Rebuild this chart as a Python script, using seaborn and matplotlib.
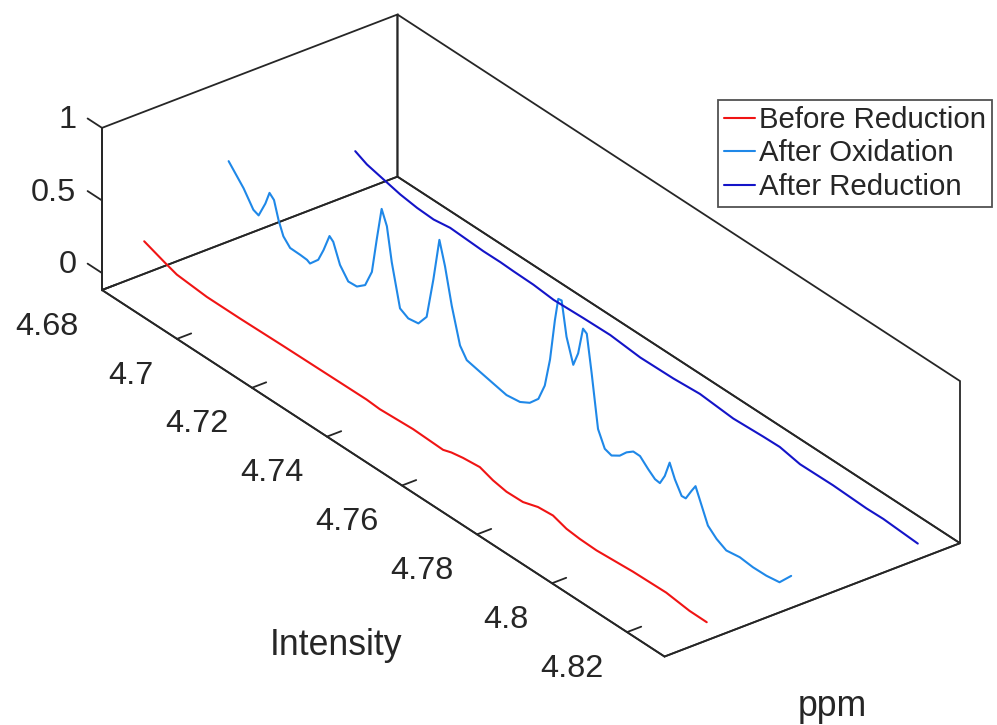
import numpy as np
import matplotlib
matplotlib.use("Agg")
import matplotlib.pyplot as plt
import seaborn as sns
from mpl_toolkits.mplot3d import proj3d

# ---------------- data ----------------
series_names = ["Before Reduction", "After Oxidation", "After Reduction"]
series_pos = [0.5, 1.5, 3.0]          # depth position of each trace

ppm_before = [4.6800, 4.6856, 4.6887, 4.6967, 4.7055, 4.7171, 4.7304, 4.7393,
              4.7428, 4.7517, 4.7597, 4.7619, 4.7650, 4.7695, 4.7730, 4.7766,
              4.7810, 4.7850, 4.7890, 4.7926, 4.7961, 4.8006, 4.8103, 4.8192,
              4.8254, 4.8300]
int_before = [0.107, 0.052, 0.024, 0.005, 0.005, 0.010, 0.013, 0.015,
              0.008, 0.020, 0.012, 0.031, 0.046, 0.058, 0.026, 0.008,
              0.011, 0.044, 0.053, 0.022, 0.012, 0.008, 0.025, 0.030,
              0.009, 0.008]

ppm_oxid = [4.6800, 4.6840, 4.6866, 4.6880, 4.6898, 4.6909, 4.6921, 4.6933,
            4.6946, 4.6964, 4.6991, 4.7009, 4.7017, 4.7039, 4.7053, 4.7069,
            4.7079, 4.7097, 4.7119, 4.7142, 4.7164, 4.7182, 4.7195, 4.7208,
            4.7222, 4.7235, 4.7257, 4.7279, 4.7306, 4.7328, 4.7346, 4.7362,
            4.7377, 4.7395, 4.7417, 4.7435, 4.7470, 4.7506, 4.7541, 4.7577,
            4.7603, 4.7626, 4.7643, 4.7657, 4.7670, 4.7679, 4.7688, 4.7701,
            4.7719, 4.7732, 4.7745, 4.7755, 4.7768, 4.7781, 4.7785, 4.7803,
            4.7821, 4.7843, 4.7861, 4.7879, 4.7897, 4.7919, 4.7937, 4.7950,
            4.7963, 4.7976, 4.7990, 4.8008, 4.8019, 4.8034, 4.8045, 4.8056,
            4.8078, 4.8101, 4.8127, 4.8163, 4.8198, 4.8234, 4.8269, 4.8300]
int_oxid = [0.436, 0.316, 0.212, 0.197, 0.309, 0.401, 0.372, 0.255,
            0.164, 0.114, 0.112, 0.108, 0.096, 0.159, 0.249, 0.373,
            0.350, 0.221, 0.144, 0.148, 0.195, 0.316, 0.563, 0.794,
            0.698, 0.472, 0.191, 0.159, 0.170, 0.252, 0.541, 0.840,
            0.683, 0.441, 0.205, 0.134, 0.113, 0.092, 0.072, 0.085,
            0.123, 0.189, 0.309, 0.512, 0.805, 0.967, 0.971, 0.743,
            0.580, 0.681, 0.873, 0.855, 0.605, 0.332, 0.249, 0.143,
            0.127, 0.163, 0.216, 0.252, 0.251, 0.197, 0.159, 0.154,
            0.225, 0.339, 0.247, 0.163, 0.165, 0.241, 0.293, 0.221,
            0.077, 0.024, -0.012, 0.002, -0.008, -0.006, 0.008, 0.104]

ppm_after = [4.6800, 4.6831, 4.6876, 4.6920, 4.6965, 4.7009, 4.7053, 4.7098,
             4.7142, 4.7187, 4.7222, 4.7275, 4.7329, 4.7408, 4.7480, 4.7560,
             4.7648, 4.7719, 4.7808, 4.7888, 4.7932, 4.7986, 4.8074, 4.8163,
             4.8208, 4.8300]
int_after = [0.170, 0.131, 0.102, 0.074, 0.057, 0.051, 0.068, 0.062,
             0.056, 0.057, 0.053, 0.050, 0.036, 0.044, 0.048, 0.028,
             0.032, 0.045, 0.025, 0.035, 0.038, 0.010, 0.013, 0.004,
             0.007, -0.008]

ppm_ticks = [4.68, 4.70, 4.72, 4.74, 4.76, 4.78, 4.80, 4.82]
ppm_tick_labels = ["4.68", "4.7", "4.72", "4.74", "4.76", "4.78", "4.8", "4.82"]
int_ticks = [0, 0.5, 1]
int_tick_labels = ["0", "0.5", "1"]

# ---------------- style ----------------
sns.set_theme(style="white")
plt.rcParams["font.family"] = ["Liberation Sans", "DejaVu Sans"]
colors = sns.color_palette(["#f01414", "#1f88e8", "#1414c8"])
ink = "#262626"

W, H = 997, 725
fig = plt.figure(figsize=(W / 100, H / 100), dpi=100)
ax = fig.add_axes([0, 0, 1, 1], projection="3d")
ax.set_proj_type("ortho")
ax.view_init(elev=30, azim=-37.5)
ax.set_box_aspect((923, 372, 187))

traces = [(ppm_before, int_before), (ppm_oxid, int_oxid), (ppm_after, int_after)]
for (xs, zs), pos, name, col in zip(traces, series_pos, series_names, colors):
    ax.plot(xs, np.full(len(xs), pos), zs, color=col, lw=1.5, label=name)

ax.set_xlim(4.68, 4.83)
ax.set_ylim(0, 3.5)
ax.set_zlim(-0.117, 1)

ax.set_xticks(ppm_ticks)
ax.set_xticklabels(ppm_tick_labels)
ax.set_yticks([])
ax.set_zticks(int_ticks)
ax.set_zticklabels(int_tick_labels)
ax.grid(False)

for axis in (ax.xaxis, ax.yaxis, ax.zaxis):
    axis.pane.set_fill(False)
    axis.pane.set_closed(True)
    axis.pane.set_edgecolor(ink)
    axis.pane.set_alpha(1.0)
    axis.pane.set_linewidth(1.3)
    axis.line.set_color(ink)
    axis.line.set_linewidth(1.3)
    axis._axinfo["tick"]["inward_factor"] = 0.0
    axis._axinfo["tick"]["linewidth"] = {True: 1.3, False: 1.0}
    axis._axinfo["tick"]["color"] = ink

# intensity ticks on the front-left vertical edge, pointing along -ppm
ax.zaxis.set_ticks_position("lower")
ax.zaxis._get_tickdir = lambda position: 0

ax.xaxis._axinfo["tick"]["outward_factor"] = 0.6
ax.zaxis._axinfo["tick"]["outward_factor"] = 0.32
ax.xaxis.set_tick_params(labelsize=23.4, pad=21, colors=ink)
ax.zaxis.set_tick_params(labelsize=23.4, pad=3, colors=ink)
for t in ax.get_xticklabels():
    t.set_horizontalalignment("right")
for t in ax.get_zticklabels():
    t.set_horizontalalignment("right")
    t.set_verticalalignment("center")

# axis names as placed in the original figure
fig.text(336 / W, 1 - 655 / H, "Intensity", ha="center", va="baseline",
         fontsize=25.7, color=ink)
fig.text(832 / W, 1 - 716 / H, "ppm", ha="center", va="baseline",
         fontsize=25.7, color=ink)

leg = ax.legend(loc="upper right", bbox_to_anchor=(992 / W, 1 - 100 / H),
                bbox_transform=fig.transFigure, fontsize=21.2, frameon=True,
                fancybox=False, edgecolor=ink, handlelength=1.05,
                handletextpad=0.15, borderpad=0.2, labelspacing=0.19,
                borderaxespad=0.0)
leg.get_frame().set_linewidth(1.3)

# ---- fit the 3D box into the same place as the reference ----
fig.canvas.draw()


def to_img(x, y, z):
    xs, ys, _ = proj3d.proj_transform(x, y, z, ax.get_proj())
    dx, dy = ax.transData.transform((xs, ys))
    return dx, dy


L = min(W, H)
cx, cy = W / 2, H / 2
ax_, ay_ = to_img(4.68, 0, -0.117)
cx_, cy_ = to_img(4.83, 3.5, -0.117)
uA, vA = (ax_ - cx) / L, (ay_ - cy) / L
uC = (cx_ - cx) / L
Lnew = (960 - 102) / (uC - uA)
cxn = 102 - Lnew * uA
cyn = (H - 290) - Lnew * vA
ax.set_position([(cxn - Lnew / 2) / W, (cyn - Lnew / 2) / H, Lnew / W, Lnew / H])

fig.savefig("out.png", dpi=100)
